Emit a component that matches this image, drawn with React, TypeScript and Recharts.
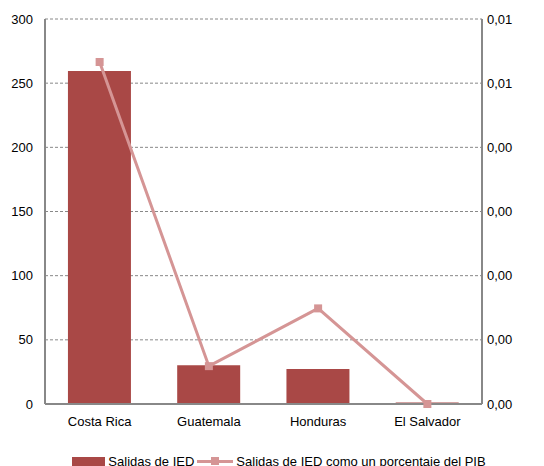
import { ComposedChart, Bar, Line, XAxis, YAxis, CartesianGrid, Legend } from 'recharts';

const categories = ['Costa Rica', 'Guatemala', 'Honduras', 'El Salvador'];
const salidasIED = [259.5, 30.2, 27.3, 1.2];
const salidasPIB = [0.00533, 0.00059, 0.00149, 0.0];
const leftTicks = [0, 50, 100, 150, 200, 250, 300];
const rightTicks = [0, 0.001, 0.002, 0.003, 0.004, 0.005, 0.006];

const BAR_COLOR = '#a94846';
const LINE_COLOR = '#d59595';
const AXIS_COLOR = '#888888';
const FONT = '"Liberation Sans", Arial, sans-serif';

const data = categories.map((name, i) => ({
  name,
  ied: salidasIED[i],
  pib: salidasPIB[i],
}));

const fmtRight = (v: number) => v.toFixed(2).replace('.', ',');

const SquareDot = (props: any) => {
  const { cx, cy } = props;
  if (cx == null || cy == null) return null;
  return <rect x={cx - 4} y={cy - 4} width={8} height={8} fill={LINE_COLOR} />;
};

const LegendContent = () => (
  <div style={{ display: 'flex', justifyContent: 'center', alignItems: 'center', height: 15, fontFamily: FONT, fontSize: 13, color: '#000', paddingLeft: 14 }}>
    <span style={{ display: 'inline-block', width: 33, height: 9, background: BAR_COLOR, marginRight: 3 }}></span>
    <span>Salidas de IED</span>
    <span style={{ position: 'relative', display: 'inline-block', width: 36, height: 9, marginLeft: 3, marginRight: 3 }}>
      <span style={{ position: 'absolute', left: 0, right: 0, top: 3, height: 3, background: LINE_COLOR }}></span>
      <span style={{ position: 'absolute', left: 14, top: 0, width: 8, height: 8, background: LINE_COLOR }}></span>
    </span>
    <span>Salidas de IED como un porcentaje del PIB</span>
  </div>
);

export default function App() {
  return (
    <div style={{ position: 'absolute', left: 0, top: 0, width: 544, height: 466, background: '#fff', overflow: 'hidden' }}>
      <ComposedChart
        width={544}
        height={466}
        data={data}
        margin={{ top: 19, right: 0, left: 0, bottom: 0 }}
        barCategoryGap="21%"
      >
        <CartesianGrid vertical={false} stroke={AXIS_COLOR} strokeDasharray="3 2" yAxisId="left" />
        <XAxis
          dataKey="name"
          height={47}
          tickLine={false}
          tickSize={0}
          tickMargin={13}
          axisLine={{ stroke: AXIS_COLOR, strokeWidth: 2 }}
          tick={{ fill: '#000', fontSize: 13, fontFamily: FONT }}
          interval={0}
        />
        <YAxis
          yAxisId="left"
          width={45}
          domain={[0, 300]}
          ticks={leftTicks}
          tickLine={false}
          tickSize={0}
          tickMargin={12}
          axisLine={{ stroke: AXIS_COLOR, strokeWidth: 2 }}
          tick={{ fill: '#000', fontSize: 13, fontFamily: FONT }}
        />
        <YAxis
          yAxisId="right"
          orientation="right"
          width={62}
          domain={[0, 0.006]}
          ticks={rightTicks}
          tickFormatter={fmtRight}
          tickLine={false}
          tickSize={0}
          tickMargin={5}
          axisLine={{ stroke: AXIS_COLOR, strokeWidth: 2 }}
          tick={{ fill: '#000', fontSize: 13, fontFamily: FONT }}
        />
        <Legend content={<LegendContent />} wrapperStyle={{ top: 454, left: 0, width: 544 }} />
        <Bar yAxisId="left" dataKey="ied" name="Salidas de IED" fill={BAR_COLOR} isAnimationActive={false} />
        <Line
          yAxisId="right"
          dataKey="pib"
          name="Salidas de IED como un porcentaje del PIB"
          stroke={LINE_COLOR}
          strokeWidth={3}
          dot={<SquareDot />}
          activeDot={false}
          isAnimationActive={false}
        />
      </ComposedChart>
    </div>
  );
}
